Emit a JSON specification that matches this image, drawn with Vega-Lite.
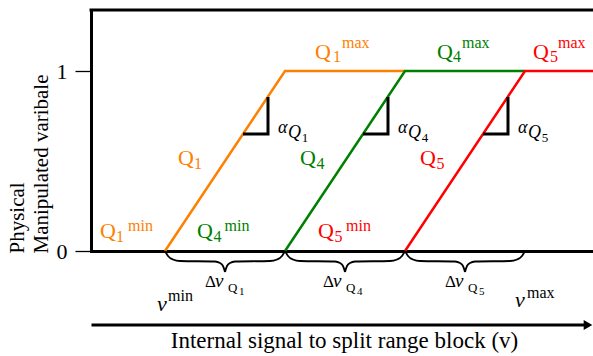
{
  "$schema": "https://vega.github.io/schema/vega-lite/v6.json",
  "width": 502,
  "height": 241,
  "autosize": {"type": "none"},
  "padding": {"left": 91, "top": 10, "right": 0, "bottom": 105},
  "config": {"view": {"stroke": null}, "font": "Liberation Serif", "text": {"font": "Liberation Serif"}},
  "datasets": {
    "curves": [
      {"x": 0, "y": 0, "g": "Q1"}, {"x": 1, "y": 1, "g": "Q1"}, {"x": 2, "y": 1, "g": "Q1"},
      {"x": 1, "y": 0, "g": "Q4"}, {"x": 2, "y": 1, "g": "Q4"}, {"x": 3, "y": 1, "g": "Q4"},
      {"x": 2, "y": 0, "g": "Q5"}, {"x": 3, "y": 1, "g": "Q5"}, {"x": 3.5667, "y": 1, "g": "Q5"}
    ],
    "braces": [
      {"b": "1L", "x": 0, "y": 0}, {"b": "1L", "x": 0.025, "y": -0.0278}, {"b": "1L", "x": 0.0667, "y": -0.0472}, {"b": "1L", "x": 0.125, "y": -0.0556}, {"b": "1L", "x": 0.4167, "y": -0.0583}, {"b": "1L", "x": 0.4583, "y": -0.0667}, {"b": "1L", "x": 0.4833, "y": -0.0833}, {"b": "1L", "x": 0.5, "y": -0.1167},
      {"b": "1R", "x": 0.5, "y": -0.1167}, {"b": "1R", "x": 0.5167, "y": -0.0833}, {"b": "1R", "x": 0.5417, "y": -0.0667}, {"b": "1R", "x": 0.5833, "y": -0.0583}, {"b": "1R", "x": 0.875, "y": -0.0556}, {"b": "1R", "x": 0.9333, "y": -0.0472}, {"b": "1R", "x": 0.975, "y": -0.0278}, {"b": "1R", "x": 1, "y": 0},
      {"b": "4L", "x": 1, "y": 0}, {"b": "4L", "x": 1.025, "y": -0.0278}, {"b": "4L", "x": 1.0667, "y": -0.0472}, {"b": "4L", "x": 1.125, "y": -0.0556}, {"b": "4L", "x": 1.4167, "y": -0.0583}, {"b": "4L", "x": 1.4583, "y": -0.0667}, {"b": "4L", "x": 1.4833, "y": -0.0833}, {"b": "4L", "x": 1.5, "y": -0.1167},
      {"b": "4R", "x": 1.5, "y": -0.1167}, {"b": "4R", "x": 1.5167, "y": -0.0833}, {"b": "4R", "x": 1.5417, "y": -0.0667}, {"b": "4R", "x": 1.5833, "y": -0.0583}, {"b": "4R", "x": 1.875, "y": -0.0556}, {"b": "4R", "x": 1.9333, "y": -0.0472}, {"b": "4R", "x": 1.975, "y": -0.0278}, {"b": "4R", "x": 2, "y": 0},
      {"b": "5L", "x": 2, "y": 0}, {"b": "5L", "x": 2.025, "y": -0.0278}, {"b": "5L", "x": 2.0667, "y": -0.0472}, {"b": "5L", "x": 2.125, "y": -0.0556}, {"b": "5L", "x": 2.4167, "y": -0.0583}, {"b": "5L", "x": 2.4583, "y": -0.0667}, {"b": "5L", "x": 2.4833, "y": -0.0833}, {"b": "5L", "x": 2.5, "y": -0.1167},
      {"b": "5R", "x": 2.5, "y": -0.1167}, {"b": "5R", "x": 2.5167, "y": -0.0833}, {"b": "5R", "x": 2.5417, "y": -0.0667}, {"b": "5R", "x": 2.5833, "y": -0.0583}, {"b": "5R", "x": 2.875, "y": -0.0556}, {"b": "5R", "x": 2.9333, "y": -0.0472}, {"b": "5R", "x": 2.975, "y": -0.0278}, {"b": "5R", "x": 3, "y": 0}
    ],
    "tri": [
      {"b": "T1", "i": 0, "x": 0.65, "y": 0.65}, {"b": "T1", "i": 1, "x": 0.8583, "y": 0.65}, {"b": "T1", "i": 2, "x": 0.8583, "y": 0.8556},
      {"b": "T4", "i": 0, "x": 1.65, "y": 0.65}, {"b": "T4", "i": 1, "x": 1.8583, "y": 0.65}, {"b": "T4", "i": 2, "x": 1.8583, "y": 0.8556},
      {"b": "T5", "i": 0, "x": 2.65, "y": 0.65}, {"b": "T5", "i": 1, "x": 2.8583, "y": 0.65}, {"b": "T5", "i": 2, "x": 2.8583, "y": 0.8556}
    ],
    "frame": [
      {"b": "top", "x": -0.6167, "y": 1.3389}, {"b": "top", "x": 3.5667, "y": 1.3389},
      {"b": "arr", "x": -0.6, "y": -0.4111}, {"b": "arr", "x": 3.52, "y": -0.4111}
    ],
    "head": [{"x": 3.525, "y": -0.4111}],
    "vticks": [{"x": 0}, {"x": 3}],
    "labels": [
      {"f": "rm", "r": "big", "x": 1.25, "y": 1.0694, "t": "Q", "g": "Q1"},
      {"f": "rm", "r": "small", "x": 1.4, "y": 1.05, "t": "1", "g": "Q1"},
      {"f": "rm", "r": "small", "x": 1.475, "y": 1.1278, "t": "max", "g": "Q1"},
      {"f": "rm", "r": "big", "x": 2.2667, "y": 1.0694, "t": "Q", "g": "Q4"},
      {"f": "rm", "r": "small", "x": 2.4, "y": 1.05, "t": "4", "g": "Q4"},
      {"f": "rm", "r": "small", "x": 2.475, "y": 1.1278, "t": "max", "g": "Q4"},
      {"f": "rm", "r": "big", "x": 3.0667, "y": 1.0694, "t": "Q", "g": "Q5"},
      {"f": "rm", "r": "small", "x": 3.2083, "y": 1.05, "t": "5", "g": "Q5"},
      {"f": "rm", "r": "small", "x": 3.275, "y": 1.1278, "t": "max", "g": "Q5"},
      {"f": "rm", "r": "big", "x": 0.1083, "y": 0.4778, "t": "Q", "g": "Q1"},
      {"f": "rm", "r": "small", "x": 0.2417, "y": 0.4556, "t": "1", "g": "Q1"},
      {"f": "rm", "r": "big", "x": 1.125, "y": 0.4778, "t": "Q", "g": "Q4"},
      {"f": "rm", "r": "small", "x": 1.2625, "y": 0.4556, "t": "4", "g": "Q4"},
      {"f": "rm", "r": "big", "x": 2.125, "y": 0.4778, "t": "Q", "g": "Q5"},
      {"f": "rm", "r": "small", "x": 2.2625, "y": 0.4556, "t": "5", "g": "Q5"},
      {"f": "rm", "r": "big", "x": -0.5417, "y": 0.0722, "t": "Q", "g": "Q1"},
      {"f": "rm", "r": "small", "x": -0.4083, "y": 0.05, "t": "1", "g": "Q1"},
      {"f": "rm", "r": "small", "x": -0.3083, "y": 0.1111, "t": "min", "g": "Q1"},
      {"f": "rm", "r": "big", "x": 0.2667, "y": 0.0722, "t": "Q", "g": "Q4"},
      {"f": "rm", "r": "small", "x": 0.4042, "y": 0.05, "t": "4", "g": "Q4"},
      {"f": "rm", "r": "small", "x": 0.4958, "y": 0.1111, "t": "min", "g": "Q4"},
      {"f": "rm", "r": "big", "x": 1.275, "y": 0.0722, "t": "Q", "g": "Q5"},
      {"f": "rm", "r": "small", "x": 1.4125, "y": 0.05, "t": "5", "g": "Q5"},
      {"f": "rm", "r": "small", "x": 1.5083, "y": 0.1111, "t": "min", "g": "Q5"},
      {"f": "rm", "r": "s13", "x": 1.14, "y": 0.6056, "t": "1", "g": "k"},
      {"f": "rm", "r": "s13", "x": 2.14, "y": 0.6056, "t": "4", "g": "k"},
      {"f": "rm", "r": "s13", "x": 3.14, "y": 0.6056, "t": "5", "g": "k"},
      {"f": "rm", "r": "d", "x": 0.3333, "y": -0.2, "t": "Δ", "g": "k"},
      {"f": "rm", "r": "d", "x": 1.3167, "y": -0.2, "t": "Δ", "g": "k"},
      {"f": "rm", "r": "d", "x": 2.3333, "y": -0.2, "t": "Δ", "g": "k"},
      {"f": "rm", "r": "s13", "x": 0.525, "y": -0.2278, "t": "Q", "g": "k"},
      {"f": "rm", "r": "s13", "x": 1.5083, "y": -0.2278, "t": "Q", "g": "k"},
      {"f": "rm", "r": "s13", "x": 2.525, "y": -0.2278, "t": "Q", "g": "k"},
      {"f": "rm", "r": "s11", "x": 0.6167, "y": -0.2444, "t": "1", "g": "k"},
      {"f": "rm", "r": "s11", "x": 1.6, "y": -0.2444, "t": "4", "g": "k"},
      {"f": "rm", "r": "s11", "x": 2.6167, "y": -0.2444, "t": "5", "g": "k"},
      {"f": "rm", "r": "small", "x": 0.025, "y": -0.2778, "t": "min", "g": "k"},
      {"f": "rm", "r": "small", "x": 3.0167, "y": -0.2611, "t": "max", "g": "k"},
      {"f": "it", "r": "a", "x": 0.9417, "y": 0.6556, "t": "α", "g": "k"},
      {"f": "it", "r": "a", "x": 1.9417, "y": 0.6556, "t": "α", "g": "k"},
      {"f": "it", "r": "a", "x": 2.9417, "y": 0.6556, "t": "α", "g": "k"},
      {"f": "it", "r": "a", "x": 1.025, "y": 0.6278, "t": "Q", "g": "k"},
      {"f": "it", "r": "a", "x": 2.025, "y": 0.6278, "t": "Q", "g": "k"},
      {"f": "it", "r": "a", "x": 3.025, "y": 0.6278, "t": "Q", "g": "k"},
      {"f": "it", "r": "dv", "x": 0.4167, "y": -0.2, "t": "v", "g": "k"},
      {"f": "it", "r": "dv", "x": 1.4, "y": -0.2, "t": "v", "g": "k"},
      {"f": "it", "r": "dv", "x": 2.4167, "y": -0.2, "t": "v", "g": "k"},
      {"f": "it", "r": "big", "x": -0.0667, "y": -0.3333, "t": "v", "g": "k"},
      {"f": "it", "r": "big", "x": 2.9167, "y": -0.3111, "t": "v", "g": "k"}
    ]
  },
  "encoding": {
    "x": {
      "field": "x", "type": "quantitative",
      "scale": {"domain": [-0.6167, 3.5667], "nice": false, "zero": false},
      "title": "Internal signal to split range block (v)",
      "axis": {
        "domain": true, "domainColor": "black", "domainWidth": 3, "domainCap": "square",
        "ticks": false, "labels": false, "grid": false,
        "titleFont": "Liberation Serif", "titleFontSize": 23, "titleFontWeight": "normal", "titleColor": "black",
        "titleAnchor": null, "titleX": 253, "titleY": 96, "titleAlign": "center", "titleBaseline": "alphabetic"
      }
    },
    "y": {
      "field": "y", "type": "quantitative",
      "scale": {"domain": [0, 1.3389], "nice": false, "zero": false},
      "title": ["Physical", "Manipulated varibale"],
      "axis": {
        "values": [0, 1], "format": "d",
        "domain": true, "domainColor": "black", "domainWidth": 3, "domainCap": "square",
        "ticks": true, "tickSize": 16, "tickWidth": 1.3, "tickColor": "black",
        "labelFont": "Liberation Serif", "labelFontSize": 22, "labelColor": "black", "labelPadding": 8,
        "grid": false,
        "titleFont": "Liberation Serif", "titleFontSize": 21, "titleFontWeight": "normal", "titleColor": "black",
        "titleAngle": 270, "titleAlign": "left", "titleBaseline": "alphabetic", "titleAnchor": null,
        "titleX": -68, "titleY": 243, "titleLineHeight": 24
      }
    },
    "color": {"field": "g", "type": "nominal", "scale": {"domain": ["Q1", "Q4", "Q5", "k"], "range": ["#ff8000", "#008000", "#ff0000", "#000000"]}, "legend": null}
  },
  "layer": [
    {
      "data": {"name": "curves"},
      "mark": {"type": "line", "strokeWidth": 2.5, "clip": false},
      "encoding": {}
    },
    {
      "data": {"name": "braces"},
      "mark": {"type": "line", "strokeWidth": 1.8, "interpolate": "monotone", "clip": false},
      "encoding": {"color": {"value": "black"}, "detail": {"field": "b", "type": "nominal"}}
    },
    {
      "data": {"name": "tri"},
      "mark": {"type": "line", "strokeWidth": 3, "strokeJoin": "miter", "clip": false},
      "encoding": {"color": {"value": "black"}, "detail": {"field": "b", "type": "nominal"}, "order": {"field": "i", "type": "quantitative"}}
    },
    {
      "data": {"name": "frame"},
      "mark": {"type": "line", "strokeWidth": 3, "strokeCap": "square", "clip": false},
      "encoding": {"color": {"value": "black"}, "detail": {"field": "b", "type": "nominal"}}
    },
    {
      "data": {"name": "head"},
      "mark": {"type": "point", "shape": "triangle-right", "filled": true, "size": 100, "opacity": 1},
      "encoding": {"color": {"value": "black"}}
    },
    {
      "data": {"name": "vticks"},
      "mark": {"type": "rule", "strokeWidth": 1.3},
      "encoding": {"color": {"value": "black"}, "y": {"datum": 0}, "y2": {"datum": -0.1056}}
    },
    {
      "data": {"name": "labels"},
      "transform": [{"filter": "datum.f === 'rm' && datum.r === 'big'"}],
      "mark": {"type": "text", "align": "left", "baseline": "alphabetic", "font": "Liberation Serif", "fontSize": 22},
      "encoding": {"text": {"field": "t", "type": "nominal"}}
    },
    {
      "data": {"name": "labels"},
      "transform": [{"filter": "datum.f === 'rm' && datum.r === 'small'"}],
      "mark": {"type": "text", "align": "left", "baseline": "alphabetic", "font": "Liberation Serif", "fontSize": 16},
      "encoding": {"text": {"field": "t", "type": "nominal"}}
    },
    {
      "data": {"name": "labels"},
      "transform": [{"filter": "datum.f === 'rm' && datum.r === 'd'"}],
      "mark": {"type": "text", "align": "left", "baseline": "alphabetic", "font": "Liberation Serif", "fontSize": 17},
      "encoding": {"text": {"field": "t", "type": "nominal"}}
    },
    {
      "data": {"name": "labels"},
      "transform": [{"filter": "datum.f === 'rm' && datum.r === 's13'"}],
      "mark": {"type": "text", "align": "left", "baseline": "alphabetic", "font": "Liberation Serif", "fontSize": 13},
      "encoding": {"text": {"field": "t", "type": "nominal"}}
    },
    {
      "data": {"name": "labels"},
      "transform": [{"filter": "datum.f === 'rm' && datum.r === 's11'"}],
      "mark": {"type": "text", "align": "left", "baseline": "alphabetic", "font": "Liberation Serif", "fontSize": 11},
      "encoding": {"text": {"field": "t", "type": "nominal"}}
    },
    {
      "data": {"name": "labels"},
      "transform": [{"filter": "datum.f === 'it' && datum.r === 'a'"}],
      "mark": {"type": "text", "align": "left", "baseline": "alphabetic", "font": "Liberation Serif", "fontStyle": "italic", "fontSize": 18},
      "encoding": {"text": {"field": "t", "type": "nominal"}}
    },
    {
      "data": {"name": "labels"},
      "transform": [{"filter": "datum.f === 'it' && datum.r === 'dv'"}],
      "mark": {"type": "text", "align": "left", "baseline": "alphabetic", "font": "Liberation Serif", "fontStyle": "italic", "fontSize": 19},
      "encoding": {"text": {"field": "t", "type": "nominal"}}
    },
    {
      "data": {"name": "labels"},
      "transform": [{"filter": "datum.f === 'it' && datum.r === 'big'"}],
      "mark": {"type": "text", "align": "left", "baseline": "alphabetic", "font": "Liberation Serif", "fontStyle": "italic", "fontSize": 22},
      "encoding": {"text": {"field": "t", "type": "nominal"}}
    }
  ]
}
